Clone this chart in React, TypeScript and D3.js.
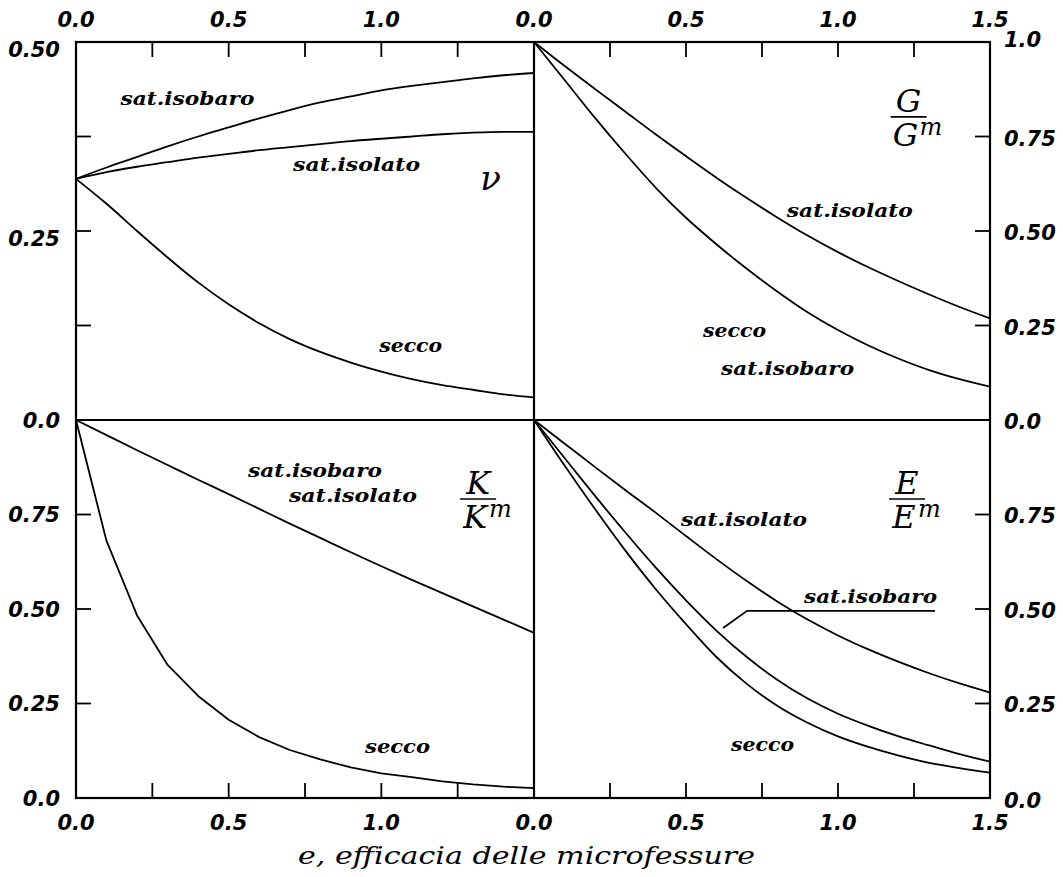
import React from "react";
import * as d3 from "d3";

// Crack density (efficacia delle microfessure)
const E_GRID = [0, 0.1, 0.2, 0.3, 0.4, 0.5, 0.6, 0.7, 0.8, 0.9, 1.0, 1.1, 1.2, 1.3, 1.4, 1.5];

// Poisson ratio ν
const NU_SAT_ISOBARO = [0.319, 0.334, 0.348, 0.362, 0.375, 0.387, 0.399, 0.41, 0.42, 0.428, 0.436, 0.442, 0.447, 0.452, 0.456, 0.459];
const NU_SAT_ISOLATO = [0.319, 0.328, 0.335, 0.341, 0.347, 0.352, 0.357, 0.361, 0.365, 0.369, 0.372, 0.375, 0.378, 0.38, 0.381, 0.381];
const NU_SECCO = [0.319, 0.286, 0.25, 0.215, 0.182, 0.153, 0.128, 0.107, 0.09, 0.076, 0.064, 0.054, 0.046, 0.04, 0.034, 0.03];

// Shear modulus G / G^m
const G_SAT_ISOLATO = [1.0, 0.937, 0.876, 0.816, 0.756, 0.698, 0.641, 0.587, 0.536, 0.488, 0.444, 0.404, 0.367, 0.332, 0.299, 0.269];
const G_SECCO_ISOBARO = [1.0, 0.9, 0.8, 0.705, 0.615, 0.535, 0.465, 0.4, 0.34, 0.285, 0.238, 0.197, 0.162, 0.132, 0.108, 0.088];

// Bulk modulus K / K^m
const K_SAT = [1.0, 0.96, 0.92, 0.881, 0.842, 0.804, 0.765, 0.726, 0.688, 0.65, 0.613, 0.577, 0.542, 0.507, 0.472, 0.437];
const K_SECCO = [1.0, 0.68, 0.483, 0.352, 0.27, 0.207, 0.161, 0.127, 0.102, 0.081, 0.065, 0.055, 0.044, 0.036, 0.03, 0.026];

// Young modulus E / E^m
const E_SAT_ISOLATO = [1.0, 0.938, 0.876, 0.815, 0.755, 0.693, 0.632, 0.574, 0.52, 0.472, 0.43, 0.393, 0.36, 0.33, 0.303, 0.279];
const E_SAT_ISOBARO = [1.0, 0.9, 0.8, 0.703, 0.61, 0.523, 0.443, 0.373, 0.313, 0.263, 0.223, 0.191, 0.163, 0.139, 0.116, 0.096];
const E_SECCO = [1.0, 0.88, 0.765, 0.655, 0.553, 0.46, 0.373, 0.302, 0.244, 0.199, 0.163, 0.135, 0.112, 0.093, 0.079, 0.067];

// Axis tick values and their printed labels
const X_MINOR_TICKS = [0.25, 0.5, 0.75, 1.0, 1.25];
const X_LABELS_LEFT = ["0.0", "0.5", "1.0"];
const X_LABEL_VALUES_LEFT = [0, 0.5, 1.0];
const X_LABELS_RIGHT = ["0.0", "0.5", "1.0", "1.5"];
const X_LABEL_VALUES_RIGHT = [0, 0.5, 1.0, 1.5];

const NU_TICKS = [0.125, 0.25, 0.375];
const NU_LABEL_VALUES = [0.5, 0.25];
const NU_LABELS = ["0.50", "0.25"];
const MOD_TICKS = [0.25, 0.5, 0.75];
const K_LABEL_VALUES = [1.0, 0.75, 0.5, 0.25, 0];
const K_LABELS = ["0.0", "0.75", "0.50", "0.25", "0.0"];
const G_LABEL_VALUES = [1.0, 0.75, 0.5, 0.25, 0];
const G_LABELS = ["1.0", "0.75", "0.50", "0.25", "0.0"];
const EM_LABEL_VALUES = [0.75, 0.5, 0.25, 0];
const EM_LABELS = ["0.75", "0.50", "0.25", "0.0"];

const LEFT = 76;
const MID_X = 534;
const RIGHT = 990;
const TOP = 42;
const MID_Y = 420;
const BOTTOM = 798;
const TICK = 15;

const tickFont: React.CSSProperties = {
  fontFamily: "'DejaVu Sans', sans-serif",
  fontWeight: "bold",
  fontStyle: "italic",
  fontSize: 21,
};
const curveFont: React.CSSProperties = {
  fontFamily: "'DejaVu Serif', serif",
  fontWeight: "bold",
  fontStyle: "italic",
  fontSize: 19,
};
const mathFont: React.CSSProperties = {
  fontFamily: "'DejaVu Serif', serif",
  fontStyle: "italic",
};

type Scale = d3.ScaleLinear<number, number>;

function Curve({ x, y, values, smooth = true }: { x: Scale; y: Scale; values: number[]; smooth?: boolean }) {
  const line = d3
    .line<number>()
    .x((_, i) => x(E_GRID[i]))
    .y((d) => y(d))
    .curve(smooth ? d3.curveMonotoneX : d3.curveLinear);
  return <path d={line(values) || ""} fill="none" stroke="#000" strokeWidth={1.8} strokeLinejoin="round" />;
}

function CurveLabel({ x, y, e, v, text, width }: { x: Scale; y: Scale; e: number; v: number; text: string; width: number }) {
  return (
    <text x={x(e)} y={y(v)} textAnchor="middle" textLength={width} lengthAdjust="spacingAndGlyphs" style={curveFont}>
      {text}
    </text>
  );
}

function Fraction({ x, y, e, v, sym }: { x: Scale; y: Scale; e: number; v: number; sym: string }) {
  const cx = x(e);
  const cy = y(v);
  return (
    <g>
      <text x={cx} y={cy - 5} textAnchor="middle" style={{ ...mathFont, fontSize: 32 }}>
        {sym}
      </text>
      <line x1={cx - 18} x2={cx + 18} y1={cy} y2={cy} stroke="#000" strokeWidth={1.6} />
      <text x={cx - 3} y={cy + 29} textAnchor="middle" style={{ ...mathFont, fontSize: 32 }}>
        {sym}
      </text>
      <text x={cx + 11} y={cy + 18} style={{ ...mathFont, fontSize: 24 }}>
        m
      </text>
    </g>
  );
}

export default function App() {
  const xL = d3.scaleLinear().domain([0, 1.5]).range([LEFT, MID_X]);
  const xR = d3.scaleLinear().domain([0, 1.5]).range([MID_X, RIGHT]);
  const yNu = d3.scaleLinear().domain([0, 0.5]).range([MID_Y, TOP]);
  const yG = d3.scaleLinear().domain([0, 1]).range([MID_Y, TOP]);
  const yK = d3.scaleLinear().domain([0, 1]).range([BOTTOM, MID_Y]);
  const yE = d3.scaleLinear().domain([0, 1]).range([BOTTOM, MID_Y]);

  const tickStroke = { stroke: "#000", strokeWidth: 1.8 };

  return (
    <svg width={1063} height={877} style={{ position: "absolute", left: 0, top: 0, background: "#fff" }}>
      <rect x={0} y={0} width={1063} height={877} fill="#fff" />

      {/* x ticks: top edge (pointing down) and bottom edge (pointing up) */}
      {[xL, xR].map((x, pi) =>
        X_MINOR_TICKS.map((t) => (
          <g key={`xt-${pi}-${t}`}>
            <line x1={x(t)} x2={x(t)} y1={TOP} y2={TOP + TICK} {...tickStroke} />
            <line x1={x(t)} x2={x(t)} y1={BOTTOM} y2={BOTTOM - TICK} {...tickStroke} />
          </g>
        ))
      )}

      {/* y ticks: left panels on the left edge, right panels on the right edge */}
      {NU_TICKS.map((t) => (
        <line key={`nu-${t}`} x1={LEFT} x2={LEFT + TICK} y1={yNu(t)} y2={yNu(t)} {...tickStroke} />
      ))}
      {MOD_TICKS.map((t) => (
        <g key={`mod-${t}`}>
          <line x1={LEFT} x2={LEFT + TICK} y1={yK(t)} y2={yK(t)} {...tickStroke} />
          <line x1={RIGHT} x2={RIGHT - TICK} y1={yG(t)} y2={yG(t)} {...tickStroke} />
          <line x1={RIGHT} x2={RIGHT - TICK} y1={yE(t)} y2={yE(t)} {...tickStroke} />
        </g>
      ))}

      {/* curves */}
      <Curve x={xL} y={yNu} values={NU_SAT_ISOBARO} />
      <Curve x={xL} y={yNu} values={NU_SAT_ISOLATO} />
      <Curve x={xL} y={yNu} values={NU_SECCO} />
      <Curve x={xR} y={yG} values={G_SAT_ISOLATO} />
      <Curve x={xR} y={yG} values={G_SECCO_ISOBARO} />
      <Curve x={xL} y={yK} values={K_SAT} />
      <Curve x={xL} y={yK} values={K_SECCO} smooth={false} />
      <Curve x={xR} y={yE} values={E_SAT_ISOLATO} />
      <Curve x={xR} y={yE} values={E_SAT_ISOBARO} />
      <Curve x={xR} y={yE} values={E_SECCO} />

      {/* frame */}
      <rect x={LEFT} y={TOP} width={RIGHT - LEFT} height={BOTTOM - TOP} fill="none" stroke="#000" strokeWidth={2.2} />
      <line x1={MID_X} x2={MID_X} y1={TOP} y2={BOTTOM} stroke="#000" strokeWidth={2.2} />
      <line x1={LEFT} x2={RIGHT} y1={MID_Y} y2={MID_Y} stroke="#000" strokeWidth={2.2} />

      {/* x tick labels */}
      {X_LABEL_VALUES_LEFT.map((v, i) => (
        <g key={`xl-${v}`}>
          <text x={xL(v)} y={27} textAnchor="middle" style={tickFont}>{X_LABELS_LEFT[i]}</text>
          <text x={xL(v)} y={830} textAnchor="middle" style={tickFont}>{X_LABELS_LEFT[i]}</text>
        </g>
      ))}
      {X_LABEL_VALUES_RIGHT.map((v, i) => (
        <g key={`xr-${v}`}>
          <text x={xR(v)} y={27} textAnchor="middle" style={tickFont}>{X_LABELS_RIGHT[i]}</text>
          <text x={xR(v)} y={830} textAnchor="middle" style={tickFont}>{X_LABELS_RIGHT[i]}</text>
        </g>
      ))}

      {/* y tick labels */}
      {NU_LABEL_VALUES.map((v, i) => (
        <text key={`nul-${v}`} x={60} y={yNu(v) + 15} textAnchor="end" style={tickFont}>{NU_LABELS[i]}</text>
      ))}
      {K_LABEL_VALUES.map((v, i) => (
        <text key={`kl-${i}`} x={60} y={yK(v) + 7.5} textAnchor="end" style={tickFont}>{K_LABELS[i]}</text>
      ))}
      {G_LABEL_VALUES.map((v, i) => (
        <text key={`gl-${i}`} x={1004} y={yG(v) + (i === 0 ? 5 : 9)} textAnchor="start" style={tickFont}>{G_LABELS[i]}</text>
      ))}
      {EM_LABEL_VALUES.map((v, i) => (
        <text key={`el-${i}`} x={1004} y={yE(v) + (v === 0 ? 10 : 8.5)} textAnchor="start" style={tickFont}>{EM_LABELS[i]}</text>
      ))}

      {/* ν panel annotations */}
      <CurveLabel x={xL} y={yNu} e={0.365} v={0.417} text="sat.isobaro" width={134} />
      <CurveLabel x={xL} y={yNu} e={0.919} v={0.329} text="sat.isolato" width={127} />
      <CurveLabel x={xL} y={yNu} e={1.096} v={0.09} text="secco" width={63} />
      <text x={xL(1.358)} y={yNu(0.304)} textAnchor="middle" style={{ ...mathFont, fontSize: 34 }}>ν</text>

      {/* G panel annotations */}
      <Fraction x={xR} y={yG} e={1.232} v={0.802} sym="G" />
      <CurveLabel x={xR} y={yG} e={1.039} v={0.537} text="sat.isolato" width={126} />
      <CurveLabel x={xR} y={yG} e={0.66} v={0.22} text="secco" width={63} />
      <CurveLabel x={xR} y={yG} e={0.834} v={0.119} text="sat.isobaro" width={133} />

      {/* K panel annotations */}
      <CurveLabel x={xL} y={yK} e={0.783} v={0.849} text="sat.isobaro" width={134} />
      <CurveLabel x={xL} y={yK} e={0.907} v={0.783} text="sat.isolato" width={128} />
      <Fraction x={xL} y={yK} e={1.317} v={0.791} sym="K" />
      <CurveLabel x={xL} y={yK} e={1.053} v={0.119} text="secco" width={65} />

      {/* E panel annotations */}
      <CurveLabel x={xR} y={yE} e={0.691} v={0.72} text="sat.isolato" width={126} />
      <Fraction x={xR} y={yE} e={1.227} v={0.791} sym="E" />
      <CurveLabel x={xR} y={yE} e={1.107} v={0.516} text="sat.isobaro" width={133} />
      <path
        d={`M${xR(1.319)},${yE(0.495)} L${xR(0.701)},${yE(0.495)} L${xR(0.622)},${yE(0.45)}`}
        fill="none"
        stroke="#000"
        strokeWidth={1.8}
      />
      <CurveLabel x={xR} y={yE} e={0.752} v={0.124} text="secco" width={63} />

      {/* axis title */}
      <text x={526.5} y={864} textAnchor="middle" textLength={457} lengthAdjust="spacingAndGlyphs" style={{ ...mathFont, fontSize: 25 }}>
        e,  efficacia  delle  microfessure
      </text>
    </svg>
  );
}
